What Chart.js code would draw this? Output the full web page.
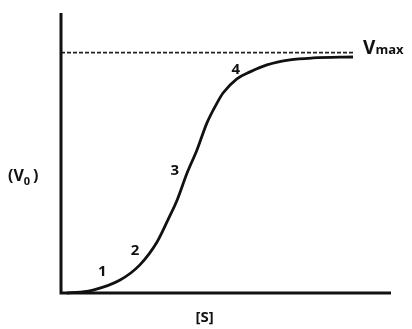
<!DOCTYPE html>
<html><head><meta charset="utf-8">
<script src="https://cdn.jsdelivr.net/npm/chart.js@4"></script>
<style>html,body{margin:0;padding:0;background:#fff}#wrap{width:412px;height:329px}</style>
</head><body><div id="wrap"><canvas id="c" width="412" height="329"></canvas></div>
<script>
// substrate concentration [S] (arbitrary units) and initial velocity V0 (% of Vmax)
const substrate = [0.18, 0.58, 0.97, 1.79, 2.39, 2.91, 3.24, 3.52, 3.82, 4.12, 4.42, 4.73, 4.91, 5.33, 5.73, 6.24, 6.94, 7.64, 8.85];
const velocity  = [0,    0.4,  1.2,  5.4,  11.7, 21.2, 30.4, 38.7, 49.9, 59.5, 70.7, 79.1, 83.2, 89.1, 92.0, 94.9, 97.0, 97.8, 98.2];
const vmaxLevel = 100;
const vmaxRange = [0, 8.85];
// region labels along the curve: [S], V0
const regionLabels = ['1', '2', '3', '4'];
const regionS = [1.25, 2.24, 3.45, 5.3];
const regionV = [8.7, 17.5, 50.8, 93];
const xMax = 10, yMax = 116.5;

const F = '"Open Sans", Lato, sans-serif';
const textPlugin = {
  id: 'texts',
  afterDraw(chart) {
    const ctx = chart.ctx, a = chart.chartArea;
    const xs = chart.scales.x, ys = chart.scales.y;
    ctx.save();
    // axes
    ctx.strokeStyle = '#111'; ctx.lineWidth = 3; ctx.lineCap = 'butt';
    ctx.beginPath();
    ctx.moveTo(a.left, a.top); ctx.lineTo(a.left, a.bottom + 1.5);
    ctx.moveTo(a.left - 1.5, a.bottom); ctx.lineTo(a.right, a.bottom);
    ctx.stroke();
    ctx.fillStyle = '#111';
    ctx.textBaseline = 'middle'; ctx.textAlign = 'center';
    ctx.font = 'bold 15px ' + F;
    regionLabels.forEach((t, i) => {
      ctx.fillText(t, xs.getPixelForValue(regionS[i]), ys.getPixelForValue(regionV[i]));
    });
    // Vmax label
    const vy = ys.getPixelForValue(vmaxLevel);
    const vx = xs.getPixelForValue(vmaxRange[1]) + 10;
    ctx.textAlign = 'left'; ctx.textBaseline = 'alphabetic';
    ctx.font = 'bold 19px ' + F;
    ctx.fillText('V', vx, vy + 1);
    const w = ctx.measureText('V').width;
    ctx.font = 'bold 13px ' + F;
    ctx.fillText('max', vx + w, vy + 1);
    // (V0) label
    const my = (a.top + a.bottom) / 2 + 28;
    ctx.font = 'bold 16px ' + F;
    let px = 8;
    ctx.fillText('(V', px, my); px += ctx.measureText('(V').width;
    ctx.font = 'bold 11px ' + F;
    ctx.fillText('0', px, my + 4); px += ctx.measureText('0').width + 3;
    ctx.font = 'bold 16px ' + F;
    ctx.fillText(')', px, my);
    // [S] label
    ctx.textAlign = 'center'; ctx.textBaseline = 'middle';
    ctx.font = 'bold 15px ' + F;
    ctx.fillText('[S]', xs.getPixelForValue(4.35), a.bottom + 25);
    ctx.restore();
  }
};

new Chart(document.getElementById('c'), {
  type: 'scatter',
  data: {
    datasets: [
      {
        data: substrate.map((s, i) => ({x: s, y: velocity[i]})),
        showLine: true, borderColor: '#111', borderWidth: 2.8,
        pointRadius: 0, cubicInterpolationMode: 'monotone', clip: false
      },
      {
        data: vmaxRange.map(s => ({x: s, y: vmaxLevel})),
        showLine: true, borderColor: '#222', borderWidth: 1.8,
        borderDash: [4, 2], pointRadius: 0, clip: false
      }
    ]
  },
  options: {
    responsive: false, animation: false,
    layout: {padding: {left: 61, top: 13, right: 21, bottom: 36}},
    plugins: {legend: {display: false}, tooltip: {enabled: false}},
    scales: {
      x: {type: 'linear', min: 0, max: xMax, display: false},
      y: {type: 'linear', min: 0, max: yMax, display: false}
    }
  },
  plugins: [textPlugin]
});
</script></body></html>
